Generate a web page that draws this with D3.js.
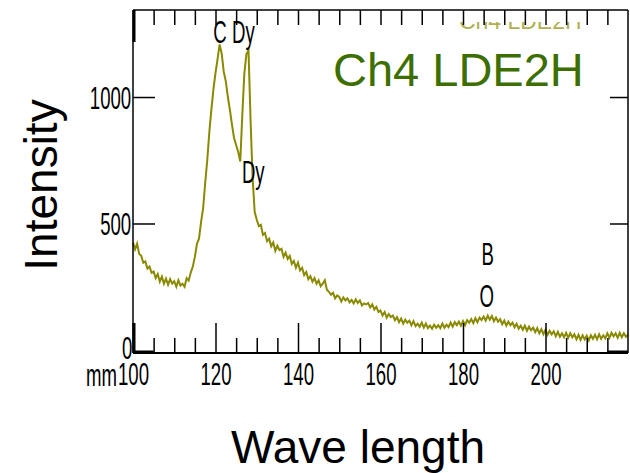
<!DOCTYPE html>
<html>
<head>
<meta charset="utf-8">
<script src="https://cdn.jsdelivr.net/npm/d3@7"></script>
<style>
  html, body { margin: 0; padding: 0; background: #fff; }
  svg { display: block; }
  text { font-family: "Liberation Sans", Arial, Helvetica, sans-serif; }
</style>
</head>
<body>
<svg id="chart" width="630" height="473"></svg>
<script>
// Spectrum sampled every 0.5 nm starting at 100 nm
const wavelengthStart = 100;
const wavelengthStep = 0.5;
const intensity = [
  425, 398, 420, 380, 372, 345, 350, 322, 330, 305,   // 100
  310, 284, 300, 270, 290, 262, 282, 258, 280, 262,   // 105
  272, 250, 276, 255, 262, 250, 284, 274, 306, 330,   // 110
  368, 420, 440, 505, 560, 660, 750, 860, 950, 1030,  // 115
  1095, 1150, 1208, 1172, 1100, 1062, 1000, 948, 890, 838, // 120
  810, 783, 745, 930, 1095, 1170, 1185, 908, 680, 545,     // 125
  515, 490, 495, 455, 462, 430, 440, 410, 425, 392,   // 130
  412, 395, 400, 368, 385, 360, 372, 340, 352, 325,   // 135
  345, 315, 325, 296, 308, 280, 292, 270, 284, 262,   // 140
  275, 252, 262, 276, 238, 230, 218, 226, 204, 216,   // 145
  210, 192, 208, 196, 204, 188, 198, 184, 200, 186,   // 150
  196, 176, 184, 180, 186, 168, 180, 160, 170, 150,   // 155
  156, 136, 150, 128, 142, 130, 136, 118, 130, 110,   // 160
  124, 104, 120, 108, 116, 98, 114, 94, 104, 92,      // 165
  108, 88, 104, 86, 96, 84, 100, 88, 98, 86,          // 170
  104, 88, 100, 90, 108, 92, 110, 98, 112, 96,        // 175
  114, 98, 118, 108, 122, 106, 126, 110, 128, 118,    // 180
  132, 116, 136, 120, 134, 114, 128, 112, 122, 102,   // 185
  116, 96, 112, 98, 108, 90, 104, 84, 96, 80,         // 190
  96, 76, 92, 78, 88, 70, 86, 66, 82, 62,             // 195
  80, 60, 76, 62, 74, 54, 72, 52, 66, 50,             // 200
  68, 48, 66, 50, 62, 42, 60, 40, 58, 42,             // 205
  56, 38, 58, 44, 60, 42, 62, 44, 58, 46,             // 210
  66, 48, 68, 54, 66, 48, 68, 50, 66, 52,             // 215
  60                                                  // 220
];

const xTickLabels = [100, 120, 140, 160, 180, 200];
const xMinorTicks = d3.range(105, 220, 5);
const yTickLabels = [0, 500, 1000];

// Element labels placed on the spectrum (wavelength, intensity of baseline)
const peakLabels = [
  { text: "C",  wl: 121.1, v: 1212, anchor: "middle" },
  { text: "Dy", wl: 124.0, v: 1212, anchor: "start" },
  { text: "Dy", wl: 126.4, v: 660,  anchor: "start" },
  { text: "B",  wl: 184.5, v: 336,  anchor: "start" },
  { text: "O",  wl: 184.0, v: 170,  anchor: "start" }
];

const sampleName = "Ch4 LDE2H";
const xTitle = "Wave length";
const yTitle = "Intensity";
const xUnit = "mm";

const svg = d3.select("#chart");
const plotLeft = 133, plotRight = 628, plotTop = 10, plotBottom = 353;

const x = d3.scaleLinear().domain([100, 220]).range([plotLeft, plotRight]);
const y = d3.scaleLinear().domain([-12, 1344]).range([plotBottom, plotTop]);

const narrow = "scale(0.6,1)";
const labelSize = "31px";

// small instrument caption partly hidden behind the top edge
svg.append("clipPath").attr("id", "capclip")
  .append("rect").attr("x", 0).attr("y", 22).attr("width", 630).attr("height", 40);
svg.append("text")
  .attr("clip-path", "url(#capclip)")
  .attr("x", x(179)).attr("y", 28.5)
  .attr("font-size", "23px")
  .attr("fill", "#b0b050")
  .text(sampleName);

// spectrum line
const line = d3.line()
  .x((d, i) => x(wavelengthStart + i * wavelengthStep))
  .y(d => y(d));

svg.append("path")
  .datum(intensity)
  .attr("d", line)
  .attr("fill", "none")
  .attr("stroke", "#8a8a00")
  .attr("stroke-width", 2)
  .attr("stroke-linejoin", "miter");

// frame
const frame = svg.append("g").attr("stroke", "#000").attr("fill", "none");
frame.append("line").attr("x1", plotLeft).attr("x2", plotRight).attr("y1", plotTop).attr("y2", plotTop).attr("stroke-width", 1.5);
frame.append("line").attr("x1", plotRight).attr("x2", plotRight).attr("y1", plotTop).attr("y2", plotBottom).attr("stroke-width", 1.5);
frame.append("line").attr("x1", plotLeft).attr("x2", plotLeft).attr("y1", plotTop).attr("y2", plotBottom).attr("stroke-width", 1.5);
frame.append("line").attr("x1", plotLeft).attr("x2", plotRight).attr("y1", plotBottom).attr("y2", plotBottom).attr("stroke-width", 2);
// heavier corner marks
frame.append("line").attr("x1", plotLeft).attr("x2", x(105)).attr("y1", plotBottom - 1).attr("y2", plotBottom - 1).attr("stroke-width", 3);
frame.append("line").attr("x1", x(215)).attr("x2", plotRight).attr("y1", plotBottom - 1).attr("y2", plotBottom - 1).attr("stroke-width", 3);
frame.append("line").attr("x1", plotLeft + 1).attr("x2", plotLeft + 1).attr("y1", plotTop).attr("y2", plotTop + 32).attr("stroke-width", 3);
frame.append("line").attr("x1", plotLeft + 1).attr("x2", plotLeft + 1).attr("y1", plotBottom - 30).attr("y2", plotBottom).attr("stroke-width", 3);

function plainTicks(g) {
  g.select(".domain").remove();
  g.selectAll("text").remove();
  g.selectAll("line").attr("stroke", "#000").attr("stroke-width", 1.5);
}

// top edge ticks
svg.append("g").attr("transform", `translate(0,${plotTop})`)
  .call(d3.axisBottom(x).tickValues(xMinorTicks).tickSize(15))
  .call(plainTicks);

// bottom edge ticks: minor and major
svg.append("g").attr("transform", `translate(0,${plotBottom})`)
  .call(d3.axisTop(x).tickValues(xMinorTicks.filter(v => v % 20 !== 0)).tickSize(15))
  .call(plainTicks);
svg.append("g").attr("transform", `translate(0,${plotBottom})`)
  .call(d3.axisTop(x).tickValues(xTickLabels).tickSize(30))
  .call(plainTicks);

// bottom tick labels
const xLab = svg.append("g").attr("transform", `translate(0,${plotBottom})`)
  .call(d3.axisBottom(x).tickValues(xTickLabels).tickFormat(d3.format("d")).tickSize(0).tickPadding(10));
xLab.select(".domain").remove();
xLab.attr("font-family", null).attr("font-size", null);
xLab.selectAll("text")
  .attr("font-size", labelSize).attr("fill", "#000")
  .attr("transform", narrow);

svg.append("text")
  .attr("transform", `translate(${x(100) - 16},${plotBottom + 33}) ${narrow}`)
  .attr("text-anchor", "end")
  .attr("font-size", labelSize)
  .text(xUnit);

// side ticks
svg.append("g").attr("transform", `translate(${plotLeft},0)`)
  .call(d3.axisRight(y).tickValues([500, 1000]).tickSize(22))
  .call(plainTicks);
svg.append("g").attr("transform", `translate(${plotRight},0)`)
  .call(d3.axisLeft(y).tickValues([500, 1000]).tickSize(18))
  .call(plainTicks);

// left tick labels
const yLab = svg.append("g").attr("transform", `translate(${plotLeft},0)`)
  .call(d3.axisLeft(y).tickValues(yTickLabels).tickFormat(d3.format("d")).tickSize(0));
yLab.select(".domain").remove();
yLab.attr("font-family", null).attr("font-size", null);
yLab.selectAll("text")
  .attr("font-size", labelSize).attr("fill", "#000")
  .attr("x", d => d === 0 ? -1 : -3)
  .attr("dy", d => d === 0 ? "0.26em" : "0.36em")
  .attr("transform", narrow);

// element labels
peakLabels.forEach(p => {
  svg.append("text")
    .attr("transform", `translate(${x(p.wl)},${y(p.v)}) ${narrow}`)
    .attr("text-anchor", p.anchor)
    .attr("font-size", labelSize)
    .attr("fill", "#000")
    .text(p.text);
});

// sample name
svg.append("text")
  .attr("x", 333).attr("y", 86)
  .attr("font-size", "47px")
  .attr("fill", "#3d6e00")
  .text(sampleName);

// axis titles
svg.append("text")
  .attr("transform", "translate(57,185) rotate(-90)")
  .attr("text-anchor", "middle")
  .attr("font-size", "46px")
  .attr("fill", "#000")
  .text(yTitle);

svg.append("text")
  .attr("x", 358).attr("y", 463)
  .attr("text-anchor", "middle")
  .attr("font-size", "46px")
  .attr("fill", "#000")
  .text(xTitle);
</script>
</body>
</html>
